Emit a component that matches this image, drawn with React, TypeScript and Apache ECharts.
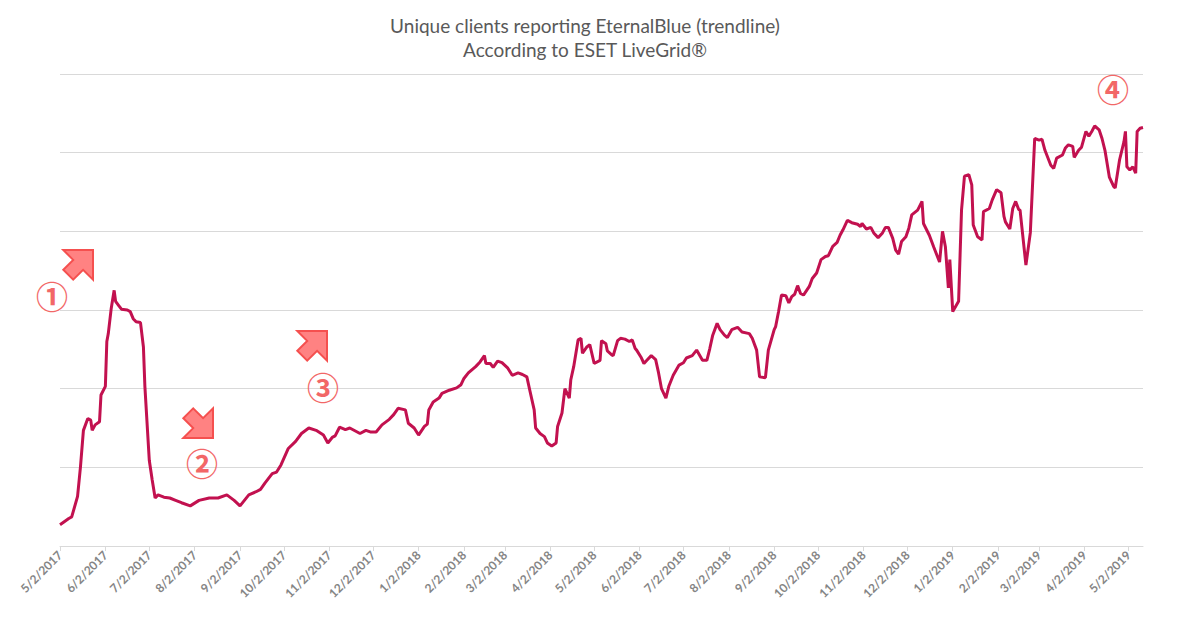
import React, { useEffect, useRef } from "react";
import * as echarts from "echarts";

const titleLines = ["Unique clients reporting EternalBlue (trendline)", "According to ESET LiveGrid®"];

const tickLabels = [
  "5/2/2017", "6/2/2017", "7/2/2017", "8/2/2017", "9/2/2017", "10/2/2017", "11/2/2017", "12/2/2017",
  "1/2/2018", "2/2/2018", "3/2/2018", "4/2/2018", "5/2/2018", "6/2/2018", "7/2/2018", "8/2/2018",
  "9/2/2018", "10/2/2018", "11/2/2018", "12/2/2018", "1/2/2019", "2/2/2019", "3/2/2019", "4/2/2019", "5/2/2019",
];

// days since 5/2/2017
const dayOffsets = [
  0, 6, 8, 12, 14, 16, 19, 21, 22, 24, 27, 28, 31, 32, 33, 35, 37, 38, 40, 42, 46, 48, 50, 52, 55, 57, 58, 61, 63, 65,
  67, 71, 75, 79, 83, 89, 95, 102, 108, 114, 119, 123, 129, 134, 137, 140, 145, 148, 151, 156, 161, 165, 170, 175, 180,
  183, 186, 188, 191, 195, 198, 205, 209, 212, 216, 220, 225, 228, 231, 236, 238, 242, 245, 249, 251, 252, 255, 259,
  261, 266, 271, 274, 276, 279, 284, 287, 290, 291, 294, 296, 299, 302, 306, 309, 313, 316, 319, 321, 324, 325, 328,
  331, 333, 336, 339, 340, 343, 345, 348, 349, 351, 354, 356, 357, 360, 362, 365, 369, 370, 373, 374, 377, 378, 381,
  383, 386, 389, 391, 393, 394, 397, 399, 401, 404, 407, 409, 411, 414, 416, 419, 423, 426, 428, 432, 435, 439, 442,
  444, 446, 449, 451, 454, 456, 459, 463, 466, 471, 473, 476, 478, 482, 484, 488, 489, 491, 493, 496, 498, 500, 502,
  504, 506, 508, 512, 514, 517, 520, 523, 525, 528, 531, 533, 535, 538, 541, 545, 547, 548, 551, 554, 556, 559, 562,
  564, 566, 569, 571, 573, 575, 578, 580, 582, 586, 589, 590, 594, 597, 601, 603, 605, 607, 608, 610, 614, 616, 618,
  621, 623, 624, 627, 630, 631, 635, 637, 640, 643, 645, 646, 649, 651, 653, 655, 656, 660, 663, 666, 669, 671, 673,
  677, 679, 681, 685, 687, 689, 692, 693, 696, 698, 701, 703, 705, 707, 710, 712, 714, 717, 720, 721, 724, 727, 728,
  729, 731, 733, 735, 736, 738, 740,
];

const clientValues = [
  27, 35, 37, 63, 101, 147, 162, 160, 147, 154, 158, 192, 203, 260, 270, 302, 325, 311, 306, 301, 300, 298, 289, 285,
  284, 253, 203, 109, 84, 61, 65, 62, 61, 58, 55, 51, 58, 61, 61, 65, 58, 51, 65, 69, 72, 80, 92, 94, 103, 124, 133,
  143, 150, 147, 141, 131, 138, 140, 151, 148, 150, 143, 147, 145, 145, 154, 161, 167, 175, 173, 156, 150, 141, 152,
  155, 173, 183, 188, 194, 198, 201, 205, 213, 220, 228, 234, 242, 232, 232, 227, 235, 233, 226, 217, 220, 218, 215,
  198, 173, 150, 143, 139, 131, 127, 131, 152, 169, 200, 188, 211, 228, 262, 264, 245, 253, 256, 232, 236, 261, 257,
  248, 243, 242, 261, 264, 263, 260, 262, 251, 249, 240, 232, 236, 242, 237, 220, 200, 188, 203, 217, 230, 233, 239,
  242, 249, 236, 236, 251, 268, 283, 275, 268, 265, 275, 278, 272, 270, 264, 249, 215, 214, 249, 275, 279, 298, 319,
  318, 309, 317, 320, 331, 321, 319, 330, 340, 347, 364, 368, 369, 381, 386, 395, 402, 414, 411, 409, 406, 410, 403,
  405, 398, 392, 398, 405, 405, 391, 376, 371, 387, 393, 404, 421, 427, 438, 410, 395, 380, 361, 400, 380, 328, 364,
  298, 311, 427, 470, 472, 459, 408, 393, 389, 425, 429, 440, 453, 449, 419, 412, 403, 429, 438, 428, 427, 357, 398,
  518, 516, 517, 503, 484, 480, 493, 497, 506, 510, 508, 494, 503, 507, 527, 521, 527, 534, 529, 518, 503, 469, 457,
  455, 491, 514, 527, 482, 478, 482, 474, 527, 531, 532,
];

const annotationLabels = ["①", "②", "③", "④"];

const DAY_MS = 86400000;
const START = Date.UTC(2017, 4, 2);
function labelToOffset(label: string): number {
  const [m, d, y] = label.split("/").map(Number);
  return Math.round((Date.UTC(y, m - 1, d) - START) / DAY_MS);
}

function arrowPoints(tx: number, ty: number, angleDeg: number, len: number, head: number, shaftHalf: number) {
  const a = (angleDeg * Math.PI) / 180;
  const ux = Math.cos(a), uy = Math.sin(a);
  const nx = -uy, ny = ux;
  const p = (u: number, v: number) => [tx + u * ux + v * nx, ty + u * uy + v * ny];
  return [
    p(0, 0), p(-head, head), p(-head, shaftHalf), p(-len, shaftHalf),
    p(-len, -shaftHalf), p(-head, -shaftHalf), p(-head, -head),
  ];
}

export default function App() {
  const ref = useRef<HTMLDivElement>(null);
  useEffect(() => {
    document.body.style.margin = "0";
    if (!ref.current) return;
    const chart = echarts.init(ref.current, undefined, { renderer: "svg" });
    const tickOffsets = tickLabels.map(labelToOffset);
    const labelMap = new Map<number, string>();
    tickOffsets.forEach((o, i) => labelMap.set(o, tickLabels[i]));
    const data = dayOffsets.map((d, i) => [d, clientValues[i]]);

    const arrowStyle = { fill: "#ff8282", stroke: "#f5504f", lineWidth: 2, lineJoin: "miter" };
    const circleText = (x: number, y: number, t: string) => ({
      type: "text",
      x, y,
      z: 10,
      style: {
        text: t, x: 0, y: 0, align: "center", verticalAlign: "middle",
        fontSize: 32, fontFamily: "Noto Sans CJK JP", fill: "#f26767", fontWeight: "bold",
      },
    });

    chart.setOption({
      animation: false,
      backgroundColor: "#ffffff",
      title: {
        text: titleLines.join("\n"),
        left: 580,
        textAlign: "center",
        top: 8,
        textStyle: { fontSize: 19, fontWeight: "normal", color: "#595959", fontFamily: "Lato", lineHeight: 24 },
      },
      grid: { left: 60, right: 57, top: 74, bottom: 83, containLabel: false },
      xAxis: {
        type: "value",
        min: 0,
        max: dayOffsets[dayOffsets.length - 1],
        axisLine: { show: true, lineStyle: { color: "#d9d9d9", width: 1 } },
        axisTick: { show: true, customValues: tickOffsets, length: 5, lineStyle: { color: "#d9d9d9" } },
        splitLine: { show: false },
        axisLabel: {
          customValues: tickOffsets,
          rotate: 45,
          margin: 7,
          color: "#858585",
          fontSize: 12,
          fontFamily: "Lato",
          fontWeight: "bold",
          formatter: (v: number) => labelMap.get(Math.round(v)) ?? "",
        },
      },
      yAxis: {
        type: "value",
        min: 0,
        max: 600,
        interval: 100,
        axisLine: { show: false },
        axisTick: { show: false },
        axisLabel: { show: false },
        splitLine: { show: true, lineStyle: { color: "#d9d9d9", width: 1 } },
      },
      series: [
        {
          type: "line",
          data,
          showSymbol: false,
          symbol: "none",
          lineStyle: { color: "#c2114f", width: 3 },
          itemStyle: { color: "#c2114f" },
        },
      ],
      graphic: [
        { type: "polygon", z: 10, shape: { points: arrowPoints(93, 250, -45, 35, 21, 7) }, style: arrowStyle },
        { type: "polygon", z: 10, shape: { points: arrowPoints(213, 438, 45, 35, 21, 7) }, style: arrowStyle },
        { type: "polygon", z: 10, shape: { points: arrowPoints(327, 331, -45, 35, 21, 7) }, style: arrowStyle },
        circleText(52, 295, annotationLabels[0]),
        circleText(202, 462, annotationLabels[1]),
        circleText(323, 386, annotationLabels[2]),
        circleText(1113, 88, annotationLabels[3]),
      ],
    });
    return () => chart.dispose();
  }, []);
  return <div ref={ref} style={{ width: 1200, height: 629 }} />;
}
